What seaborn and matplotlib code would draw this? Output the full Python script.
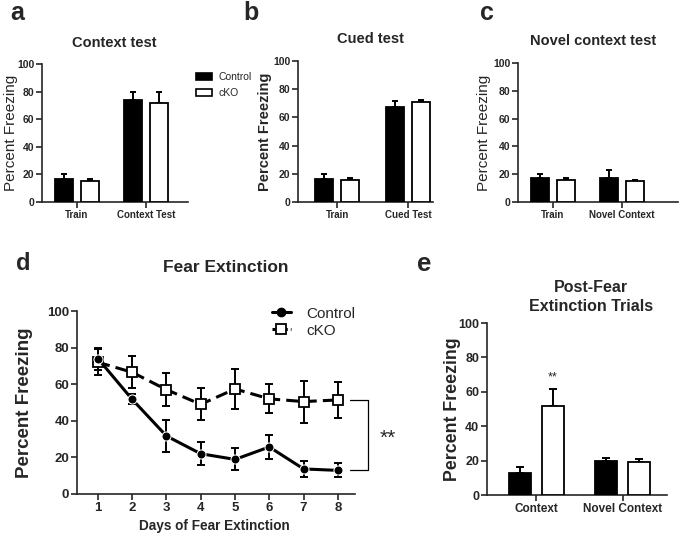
import matplotlib
matplotlib.use("Agg")
import matplotlib.pyplot as plt
import seaborn as sns
import pandas as pd
from matplotlib.patches import Patch
from matplotlib.lines import Line2D

# ---------------- data ----------------
groups = ["Control", "cKO"]

a_cats = ["Train", "Context Test"]
a_ctrl = [17.0, 74.0]
a_ctrl_err = [3.0, 6.0]
a_cko = [15.5, 72.0]
a_cko_err = [1.5, 8.0]

b_cats = ["Train", "Cued Test"]
b_ctrl = [16.5, 67.5]
b_ctrl_err = [3.5, 4.0]
b_cko = [15.5, 71.0]
b_cko_err = [1.5, 1.5]

c_cats = ["Train", "Novel Context"]
c_ctrl = [17.0, 17.5]
c_ctrl_err = [3.0, 5.5]
c_cko = [15.5, 15.0]
c_cko_err = [1.5, 1.0]

d_days = [1, 2, 3, 4, 5, 6, 7, 8]
d_ctrl = [74.0, 51.7, 31.7, 22.0, 18.9, 25.7, 13.7, 12.9]
d_ctrl_err = [6.0, 2.7, 9.0, 6.4, 6.0, 6.5, 4.3, 3.8]
d_cko = [72.0, 66.5, 57.0, 49.0, 57.4, 52.0, 50.5, 51.4]
d_cko_err = [7.0, 8.7, 9.0, 8.7, 10.7, 8.0, 11.5, 10.0]

e_cats = ["Context", "Novel Context"]
e_ctrl = [13.0, 19.7]
e_ctrl_err = [3.5, 2.0]
e_cko = [51.8, 19.3]
e_cko_err = [10.0, 1.5]

yticks = [0, 20, 40, 60, 80, 100]

# ---------------- style ----------------
sns.set_style("ticks")
plt.rcParams["font.family"] = ["Liberation Sans", "DejaVu Sans"]
plt.rcParams["axes.linewidth"] = 1.2

W, H = 685, 538
fig = plt.figure(figsize=(W / 100, H / 100), dpi=100)


def add_ax(l, t, r, b):
    return fig.add_axes([l / W, 1 - b / H, (r - l) / W, (b - t) / H])


def style_ax(ax, xsize, ysize):
    sns.despine(ax=ax)
    ax.set_ylim(0, 100)
    ax.set_yticks(yticks)
    ax.tick_params(direction="out", length=4, width=1.2, pad=1.5)
    ax.tick_params(axis="x", labelsize=xsize)
    ax.tick_params(axis="y", labelsize=ysize)
    for lab in ax.get_xticklabels() + ax.get_yticklabels():
        lab.set_fontweight("bold")


def bar_panel(ax, cats, ctrl, ctrl_err, cko, cko_err, width, gap, xlim,
              xsize, ysize, ylab_size, ylab_weight, ylab_x, capsize=2.5):
    df = pd.DataFrame({
        "cond": cats * 2,
        "group": [groups[0]] * len(cats) + [groups[1]] * len(cats),
        "val": ctrl + cko,
    })
    sns.barplot(data=df, x="cond", y="val", hue="group", hue_order=groups,
                order=cats, palette={"Control": "black", "cKO": "white"},
                saturation=1, edgecolor="black", linewidth=1.3, width=width,
                gap=gap, errorbar=None, legend=False, ax=ax, zorder=3)
    for cont, errs in zip(ax.containers, [ctrl_err, cko_err]):
        xs = [p.get_x() + p.get_width() / 2 for p in cont]
        ys = [p.get_height() for p in cont]
        ax.errorbar(xs, ys, yerr=[[0] * len(errs), errs], fmt="none",
                    ecolor="black", elinewidth=1.4, capsize=capsize,
                    capthick=1.4, zorder=2)
    ax.set_xlim(*xlim)
    style_ax(ax, xsize, ysize)
    ax.set_xlabel("")
    ax.set_ylabel("Percent Freezing", fontsize=ylab_size, fontweight=ylab_weight)
    ax.yaxis.set_label_coords(ylab_x, 0.5)


# ---------------- panel a ----------------
ax_a = add_ax(42, 64, 188, 202)
bar_panel(ax_a, a_cats, a_ctrl, a_ctrl_err, a_cko, a_cko_err, 0.75, 0.31,
          (-0.5, 1.6), 7, 7.5, 11, "normal", -0.165)
fig.text(114 / W, 1 - 43 / H, "Context test", ha="center", va="center",
         fontsize=10.5, fontweight="bold")
leg_handles = [Patch(facecolor="black", edgecolor="black", linewidth=1.2),
               Patch(facecolor="white", edgecolor="black", linewidth=1.2)]
fig.legend(leg_handles, groups, loc="upper left",
           bbox_to_anchor=(189 / W, 1 - 65 / H), frameon=False, fontsize=7.5,
           handlelength=1.55, handleheight=0.75, labelspacing=0.55,
           handletextpad=0.6, borderpad=0.2)

# ---------------- panel b ----------------
ax_b = add_ax(298, 61, 433, 202)
bar_panel(ax_b, b_cats, b_ctrl, b_ctrl_err, b_cko, b_cko_err, 0.73, 0.31,
          (-0.55, 1.35), 7, 7.5, 10.5, "bold", -0.19)
fig.text(370 / W, 1 - 39 / H, "Cued test", ha="center", va="center",
         fontsize=10.5, fontweight="bold")

# ---------------- panel c ----------------
ax_c = add_ax(518, 63, 678, 202)
bar_panel(ax_c, c_cats, c_ctrl, c_ctrl_err, c_cko, c_cko_err, 0.75, 0.31,
          (-0.5, 1.81), 7, 7.5, 11, "normal", -0.17)
fig.text(593 / W, 1 - 41 / H, "Novel context test", ha="center", va="center",
         fontsize=10.5, fontweight="bold")

# ---------------- panel d ----------------
ax_d = add_ax(77, 311, 355, 494)
ax_d.errorbar(d_days, d_ctrl, yerr=d_ctrl_err, fmt="none", ecolor="black",
              elinewidth=1.4, capsize=2.7, capthick=1.4, zorder=2)
ax_d.errorbar(d_days, d_cko, yerr=d_cko_err, fmt="none", ecolor="black",
              elinewidth=1.4, capsize=2.7, capthick=1.4, zorder=2)
sns.lineplot(x=d_days, y=d_ctrl, color="black", marker="o", markersize=6.5,
             linewidth=2.2, ax=ax_d, zorder=4, label="Control")
sns.lineplot(x=d_days, y=d_cko, color="black", marker="s", markersize=7,
             markerfacecolor="white", markeredgecolor="black",
             markeredgewidth=1.3, linewidth=2.2, linestyle=(0, (4, 2)),
             ax=ax_d, zorder=3, label="cKO")
ax_d.set_xlim(0.39, 8.5)
ax_d.set_xticks(d_days)
style_ax(ax_d, 9.5, 9.5)
ax_d.set_ylabel("Percent Freezing", fontsize=13.5, fontweight="bold")
ax_d.yaxis.set_label_coords(-0.158, 0.5)
ax_d.set_xlabel("Days of Fear Extinction", fontsize=9.8, fontweight="bold")
ax_d.xaxis.set_label_coords(0.495, -0.135)
h_ctrl = Line2D([], [], color="black", marker="o", markersize=6, linewidth=2.2)
h_cko = Line2D([], [], color="black", marker="s", markersize=6.5,
               markerfacecolor="white", markeredgewidth=1.3, linewidth=2.2,
               linestyle=(0, (2, 1)))
ax_d.legend([h_ctrl, h_cko], groups, loc="upper left",
            bbox_to_anchor=(261 / W, 1 - 296 / H),
            bbox_transform=fig.transFigure, frameon=False, fontsize=11,
            handlelength=1.25, labelspacing=0.2, handletextpad=1.0,
            borderpad=0.2, numpoints=1)
# significance bracket
bx0, bx1 = 8.35, 8.87
ax_d.plot([bx0, bx1, bx1, bx0], [d_cko[-1], d_cko[-1], d_ctrl[-1], d_ctrl[-1]],
          color="black", linewidth=0.9, clip_on=False)
ax_d.text(9.45, (d_cko[-1] + d_ctrl[-1]) / 2 - 1.5, "**", ha="center",
          va="center", fontsize=15)
fig.text(226 / W, 1 - 268 / H, "Fear Extinction", ha="center", va="center",
         fontsize=12.5, fontweight="bold")

# ---------------- panel e ----------------
ax_e = add_ax(487, 323, 667, 495)
bar_panel(ax_e, e_cats, e_ctrl, e_ctrl_err, e_cko, e_cko_err, 0.763, 0.33,
          (-0.57, 1.51), 8.5, 9, 12.8, "bold", -0.144, capsize=2.8)
star_bar = ax_e.containers[1][0]
ax_e.text(star_bar.get_x() + star_bar.get_width() / 2, 68.5, "**",
          ha="center", va="center", fontsize=9)
fig.text(591 / W, 1 - 297 / H, "Post-Fear\nExtinction Trials", ha="center",
         va="center", fontsize=11.5, fontweight="bold", linespacing=1.35)

# ---------------- panel letters ----------------
for x, y, s, fs in [(10, 20, "a", 18), (243, 20, "b", 18), (480, 20, "c", 18),
                    (16, 270, "d", 17), (417, 271, "e", 18.5)]:
    fig.text(x / W, 1 - y / H, s, ha="left", va="baseline", fontsize=fs,
             fontweight="bold")

fig.savefig("out.png", dpi=100)
